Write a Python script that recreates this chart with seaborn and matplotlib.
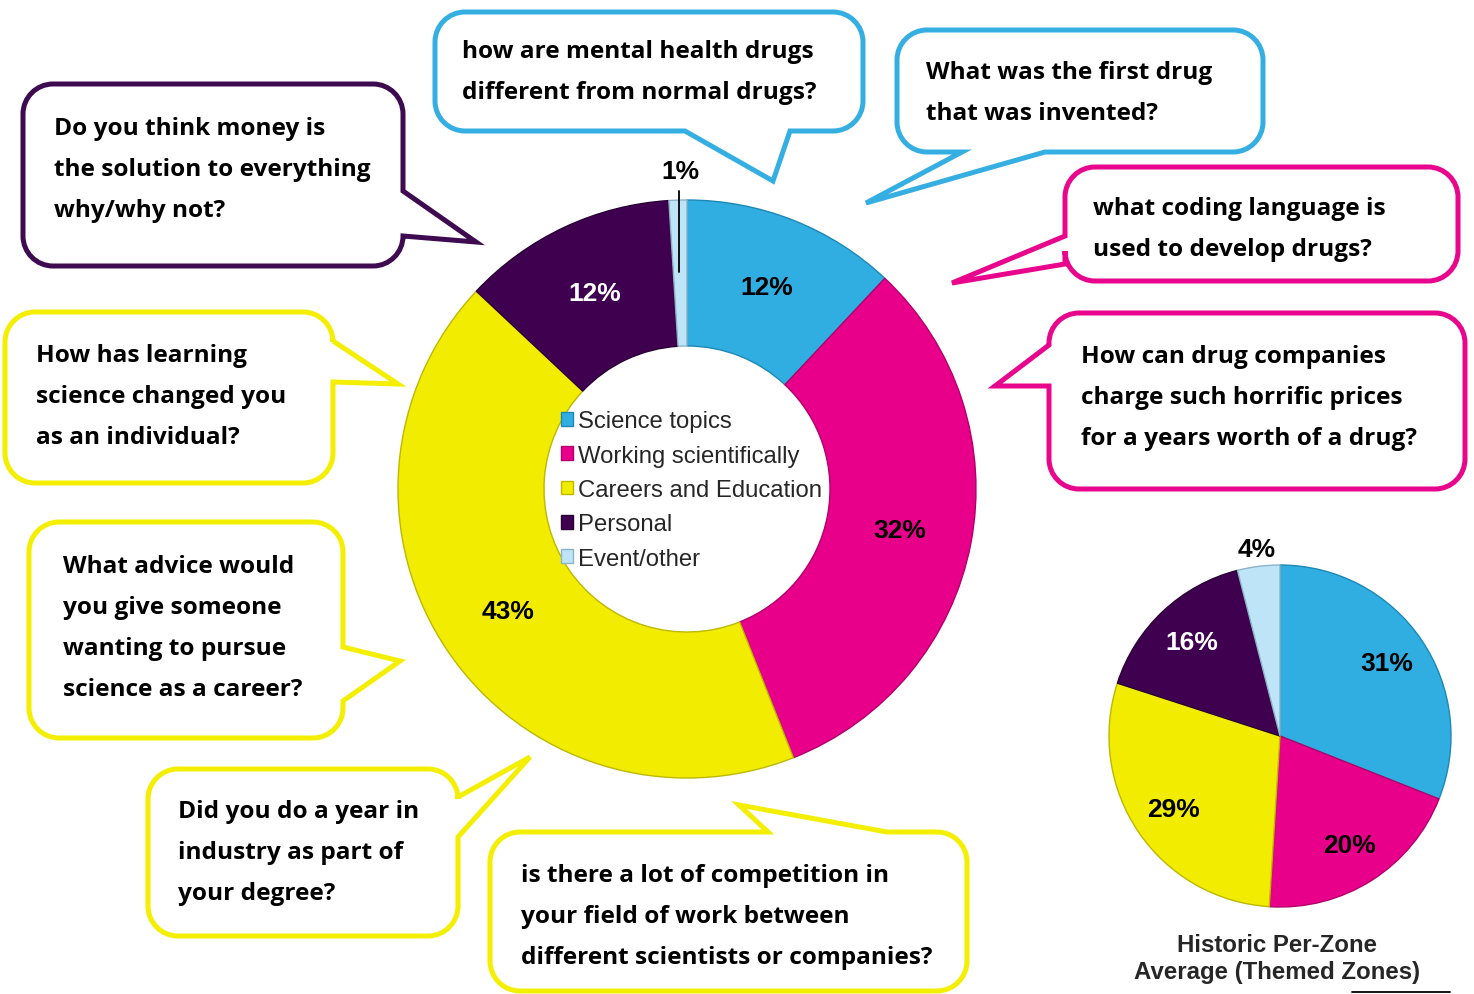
import numpy as np
import matplotlib
matplotlib.use("Agg")
import matplotlib.pyplot as plt
from matplotlib.path import Path
from matplotlib.patches import PathPatch
import seaborn as sns

# ---------------- data ----------------
categories = ["Science topics", "Working scientifically", "Careers and Education",
              "Personal", "Event/other"]
current_pct = [12, 32, 43, 12, 1]
historic_pct = [31, 20, 29, 16, 4]
historic_title = ["Historic Per-Zone", "Average (Themed Zones)"]

questions = [
    ["Do you think money is", "the solution to everything", "why/why not?"],
    ["how are mental health drugs", "different from normal drugs?"],
    ["What was the first drug", "that was invented?"],
    ["what coding language is", "used to develop drugs?"],
    ["How can drug companies", "charge such horrific prices", "for a years worth of a drug?"],
    ["How has learning", "science changed you", "as an individual?"],
    ["What advice would", "you give someone", "wanting to pursue", "science as a career?"],
    ["Did you do a year in", "industry as part of", "your degree?"],
    ["is there a lot of competition in", "your field of work between",
     "different scientists or companies?"],
]
question_theme = [3, 0, 0, 1, 1, 2, 2, 2, 2]

# ---------------- style ----------------
sns.set_theme(style="white")
plt.rcParams["font.family"] = ["Liberation Sans", "DejaVu Sans"]
Q_FAMILY = ["Open Sans", "DejaVu Sans"]

palette = sns.color_palette(["#30AEE1", "#E8008B", "#F2EC00", "#400050", "#BEE4F7"])
edge_palette = sns.color_palette(["#1D88B4", "#B3006B", "#BDB800", "#2A0036", "#8DB3C6"])
bubble_colors = ["#35AFE2", "#E8068C", "#F4EE00", "#3E0A50"]

W, H = 1474, 995
fig = plt.figure(figsize=(W / 100, H / 100), dpi=100)
fig.patch.set_facecolor("white")

# canvas for callouts, in pixel units (y downward)
canvas = fig.add_axes([0, 0, 1, 1])
canvas.set_xlim(0, W)
canvas.set_ylim(H, 0)
canvas.axis("off")

K = 0.5523


def bubble(ax, box, r, tail, color, lw=3.6):
    x0, y0, x1, y1 = box
    side, a, tip, b = tail
    verts, codes = [], []

    def add(p, c=Path.LINETO):
        verts.append(p)
        codes.append(c)

    def curve(c1, c2, p):
        add(c1, Path.CURVE4)
        add(c2, Path.CURVE4)
        add(p, Path.CURVE4)

    add((x0 + r, y0), Path.MOVETO)
    if side == "top":
        add((a, y0)); add(tip); add((b, y0))
    add((x1 - r, y0))
    curve((x1 - r + K * r, y0), (x1, y0 + r - K * r), (x1, y0 + r))
    if side == "right":
        add((x1, a)); add(tip); add((x1, b))
    add((x1, y1 - r))
    curve((x1, y1 - r + K * r), (x1 - r + K * r, y1), (x1 - r, y1))
    if side == "bottom":
        add((b, y1)); add(tip); add((a, y1))
    add((x0 + r, y1))
    curve((x0 + r - K * r, y1), (x0, y1 - r + K * r), (x0, y1 - r))
    if side == "left":
        add((x0, b)); add(tip); add((x0, a))
    add((x0, y0 + r))
    curve((x0, y0 + r - K * r), (x0 + r - K * r, y0), (x0 + r, y0))
    add((x0 + r, y0), Path.CLOSEPOLY)
    patch = PathPatch(Path(verts, codes), facecolor="white", edgecolor=color,
                      lw=lw, joinstyle="miter")
    ax.add_patch(patch)


# callout layout: box (x0, y0, x1, y1), tail, text x, first baseline
layout = [
    ((23, 85, 403, 267), ("right", 192, (476, 243), 237), 54, 135),
    ((435, 13, 863, 132), ("bottom", 685, (773, 182), 790), 462, 58),
    ((897, 31, 1263, 153), ("bottom", 962, (866, 204), 1045), 926, 79),
    ((1065, 168, 1458, 282), ("left", 237, (952, 284), 265), 1093, 215),
    ((1049, 314, 1465, 490), ("left", 346, (995, 387), 387), 1081, 363),
    ((5, 313, 333, 484), ("right", 342, (398, 385), 383), 36, 362),
    ((29, 523, 343, 739), ("right", 648, (400, 662), 702), 63, 573),
    ((148, 770, 458, 937), ("right", 798, (530, 758), 838), 178, 818),
    ((490, 833, 967, 992), ("top", 768, (739, 806), 887), 521, 882),
]
line_gap = 41

# question text size chosen so the longest line of the first callout spans 316 px
renderer = fig.canvas.get_renderer()
probe = canvas.text(0, 0, questions[0][1], fontsize=20, fontweight="bold", family=Q_FAMILY)
q_size = 20 * 316 / probe.get_window_extent(renderer).width
probe.remove()

for lines, theme, (box, tail, tx, ty) in zip(questions, question_theme, layout):
    bubble(canvas, box, 30, tail, bubble_colors[theme])
    for i, txt in enumerate(lines):
        canvas.text(tx, ty + i * line_gap, txt, fontsize=q_size, fontweight="bold",
                    family=Q_FAMILY, color="black", ha="left", va="baseline")


def pie_axes(cx, cy, R, half=360):
    ax = fig.add_axes([(cx - half) / W, (H - cy - half) / H, 2 * half / W, 2 * half / H])
    ax.patch.set_alpha(0)
    return ax, half / R


def mid_angle(w):
    return np.deg2rad(0.5 * (w.theta1 + w.theta2))


# ---------------- donut: current questions ----------------
R1 = 289
ax1, lim1 = pie_axes(687, 490, R1)
wedges1, _ = ax1.pie(current_pct, colors=palette, startangle=90, counterclock=False,
                     radius=1, wedgeprops=dict(width=146 / R1, linewidth=1.0))
for w, ec in zip(wedges1, edge_palette):
    w.set_edgecolor(ec)
ax1.set_xlim(-lim1, lim1)
ax1.set_ylim(-lim1, lim1)
ax1.axis("off")

for i, (w, v) in enumerate(zip(wedges1, current_pct)):
    t = mid_angle(w)
    col = "white" if categories[i] == "Personal" else "black"
    if v < 3:
        lx = 0.9 * np.cos(t)
        ax1.plot([lx, lx], [1.031, 0.751], color="black", lw=1.3)
        ax1.text(lx + 0.005, 1.10, f"{v}%", ha="center", va="center",
                 fontsize=19, fontweight="bold", color=col)
    else:
        r = 0.75
        ax1.text(r * np.cos(t), r * np.sin(t), f"{v}%", ha="center", va="center",
                 fontsize=19, fontweight="bold", color=col)

ax1.legend(wedges1, categories, loc="center left",
           bbox_to_anchor=(561 / W, 1 - 491 / H), bbox_transform=fig.transFigure,
           frameon=False, prop=dict(family="Liberation Sans", size=17.2),
           handlelength=0.52, handleheight=0.52, handletextpad=0.2,
           labelspacing=0.52, borderpad=0, borderaxespad=0)

# ---------------- pie: historic average ----------------
R2 = 171
ax2, lim2 = pie_axes(1280, 737, R2, half=220)
wedges2, _ = ax2.pie(historic_pct, colors=palette, startangle=90, counterclock=False,
                     radius=1, wedgeprops=dict(linewidth=1.0))
for w, ec in zip(wedges2, edge_palette):
    w.set_edgecolor(ec)
ax2.set_xlim(-lim2, lim2)
ax2.set_ylim(-lim2, lim2)
ax2.axis("off")

for i, (w, v) in enumerate(zip(wedges2, historic_pct)):
    t = mid_angle(w)
    col = "white" if categories[i] == "Personal" else "black"
    r = 1.1 if v < 5 else 0.755
    ax2.text(r * np.cos(t), r * np.sin(t), f"{v}%", ha="center", va="center",
             fontsize=19, fontweight="bold", color=col)

canvas.text(1277, 945, historic_title[0], ha="center", va="center",
            fontsize=17.3, fontweight="bold")
canvas.text(1277, 973, historic_title[1], ha="center", va="center",
            fontsize=17.3, fontweight="bold")
canvas.plot([1352, 1450], [993, 993], color="black", lw=1.3)

fig.savefig("out.png", dpi=100, facecolor="white")
